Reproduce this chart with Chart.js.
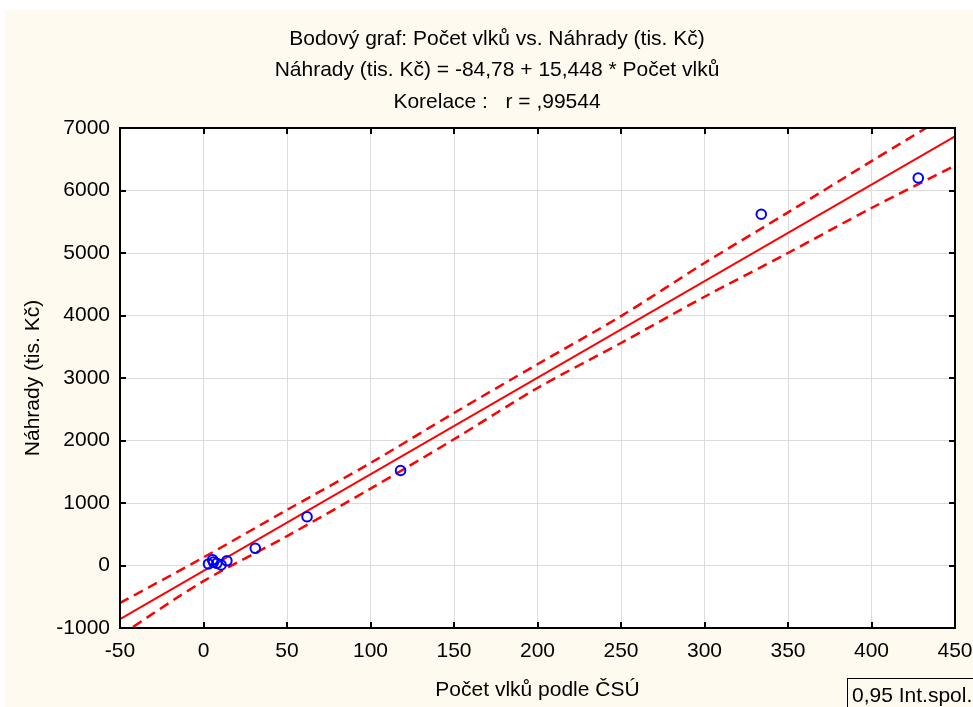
<!DOCTYPE html>
<html>
<head>
<meta charset="utf-8">
<title>Počet vlků vs. Náhrady</title>
<script src="https://cdn.jsdelivr.net/npm/chart.js@4/dist/chart.umd.min.js"></script>
<style>
    body { margin: 0; background: #ffffff; }
    canvas { display: block; }
</style>
</head>
<body>
<canvas id="wolfChart" width="973" height="707"></canvas>
<script>
// Data
const wolves = [3, 5.5, 6, 8, 10.5, 14, 31, 62, 118, 334, 428];
const compensation = [25, 90, 55, 35, 10, 75, 275, 780, 1520, 5620, 6200];

// Regression from the subtitle: Náhrady = -84,78 + 15,448 * Počet vlků
const intercept = -84.78;
const slope = 15.448;
const fitX = [-50, 450];

// 0,95 confidence band (dashed), read at each x tick
const bandX = [-50, 0, 50, 100, 150, 200, 250, 300, 350, 400, 450];
const upperBand = [-600, 130, 890, 1640, 2440, 3220, 3990, 4840, 5650, 6470, 7280];
const lowerBand = [-1120, -250, 470, 1230, 2020, 2840, 3560, 4300, 5000, 5720, 6400];

const xTicks = [-50, 0, 50, 100, 150, 200, 250, 300, 350, 400, 450];
const yTicks = [-1000, 0, 1000, 2000, 3000, 4000, 5000, 6000, 7000];

const titleLines = [
    'Bodový graf: Počet vlků vs. Náhrady (tis. Kč)',
    'Náhrady (tis. Kč) = -84,78 + 15,448 * Počet vlků',
    'Korelace :   r = ,99544'
];

const FONT = '"Liberation Sans", Arial, sans-serif';
const cream = '#fffaf0';

function toPoints(xs, ys) {
    return xs.map((x, i) => ({ x: x, y: ys[i] }));
}

// Background, frame, inward ticks and all the free text
const decorations = {
    id: 'decorations',
    beforeDraw(chart) {
        const ctx = chart.ctx;
        const area = chart.chartArea;
        ctx.save();
        ctx.fillStyle = '#ffffff';
        ctx.fillRect(0, 0, chart.width, chart.height);
        ctx.fillStyle = cream;
        ctx.fillRect(5, 10, chart.width - 5, chart.height - 10);
        ctx.fillStyle = '#ffffff';
        ctx.fillRect(area.left, area.top, area.right - area.left, area.bottom - area.top);
        ctx.restore();
    },
    afterDraw(chart) {
        const ctx = chart.ctx;
        const area = chart.chartArea;
        const xs = chart.scales.x;
        const ys = chart.scales.y;
        ctx.save();

        // inward tick marks on all four sides
        ctx.strokeStyle = '#000000';
        ctx.lineWidth = 2;
        ctx.beginPath();
        xTicks.forEach(v => {
            const px = Math.round(xs.getPixelForValue(v));
            ctx.moveTo(px, area.bottom);
            ctx.lineTo(px, area.bottom - 6);
            ctx.moveTo(px, area.top);
            ctx.lineTo(px, area.top + 6);
        });
        yTicks.forEach(v => {
            const py = Math.round(ys.getPixelForValue(v));
            ctx.moveTo(area.left, py);
            ctx.lineTo(area.left + 6, py);
            ctx.moveTo(area.right, py);
            ctx.lineTo(area.right - 6, py);
        });
        ctx.stroke();

        // frame
        ctx.strokeRect(area.left, area.top, area.right - area.left, area.bottom - area.top);

        // titles
        ctx.fillStyle = '#000000';
        ctx.font = '21px ' + FONT;
        ctx.textAlign = 'center';
        ctx.textBaseline = 'middle';
        titleLines.forEach((line, i) => {
            ctx.fillText(line, 497, 39 + i * 31.5);
        });

        // axis titles
        ctx.fillText('Počet vlků podle ČSÚ', (area.left + area.right) / 2, 690);
        ctx.save();
        ctx.translate(33, (area.top + area.bottom) / 2);
        ctx.rotate(-Math.PI / 2);
        ctx.fillText('Náhrady (tis. Kč)', 0, 0);
        ctx.restore();

        // legend box, bottom right
        ctx.fillStyle = cream;
        ctx.fillRect(847.5, 678.5, 140, 40);
        ctx.lineWidth = 1;
        ctx.strokeRect(847.5, 678.5, 140, 40);
        ctx.fillStyle = '#000000';
        ctx.textAlign = 'left';
        ctx.fillText('0,95 Int.spol.', 852, 696);

        ctx.restore();
    }
};

new Chart(document.getElementById('wolfChart'), {
    type: 'scatter',
    data: {
        datasets: [
            {
                label: 'data',
                data: toPoints(wolves, compensation),
                pointStyle: 'circle',
                pointRadius: 4.8,
                pointBorderWidth: 2,
                borderColor: '#0000ff',
                backgroundColor: 'rgba(0,0,0,0)',
                order: 0
            },
            {
                label: 'fit',
                data: toPoints(fitX, fitX.map(x => intercept + slope * x)),
                showLine: true,
                borderColor: '#ff0000',
                borderWidth: 2,
                pointRadius: 0,
                order: 1
            },
            {
                label: 'upper',
                data: toPoints(bandX, upperBand),
                showLine: true,
                borderColor: '#ff0000',
                borderWidth: 2.5,
                borderDash: [10, 6],
                tension: 0.3,
                pointRadius: 0,
                order: 1
            },
            {
                label: 'lower',
                data: toPoints(bandX, lowerBand),
                showLine: true,
                borderColor: '#ff0000',
                borderWidth: 2.5,
                borderDash: [10, 6],
                tension: 0.3,
                pointRadius: 0,
                order: 1
            }
        ]
    },
    options: {
        responsive: false,
        animation: false,
        devicePixelRatio: 1,
        layout: { padding: { top: 128, right: 18, left: 0, bottom: 0 } },
        plugins: {
            legend: { display: false },
            tooltip: { enabled: false }
        },
        scales: {
            x: {
                type: 'linear',
                min: -50,
                max: 450,
                afterBuildTicks: scale => { scale.ticks = xTicks.map(v => ({ value: v })); },
                afterFit: scale => {
                    scale.height = 79;
                    scale.paddingLeft = 0;
                    scale.paddingRight = 0;
                },
                grid: { color: '#dcdcdc', lineWidth: 1, drawTicks: false },
                border: { display: false },
                ticks: {
                    color: '#000000',
                    padding: 11,
                    font: { family: FONT, size: 21 },
                    maxRotation: 0,
                    callback: v => String(v)
                }
            },
            y: {
                type: 'linear',
                min: -1000,
                max: 7000,
                afterBuildTicks: scale => { scale.ticks = yTicks.map(v => ({ value: v })); },
                afterFit: scale => {
                    scale.width = 120;
                    scale.paddingTop = 0;
                    scale.paddingBottom = 0;
                },
                grid: { color: '#dcdcdc', lineWidth: 1, drawTicks: false },
                border: { display: false },
                ticks: {
                    color: '#000000',
                    padding: 10,
                    font: { family: FONT, size: 21 },
                    callback: v => String(v)
                }
            }
        }
    },
    plugins: [decorations]
});
</script>
</body>
</html>
